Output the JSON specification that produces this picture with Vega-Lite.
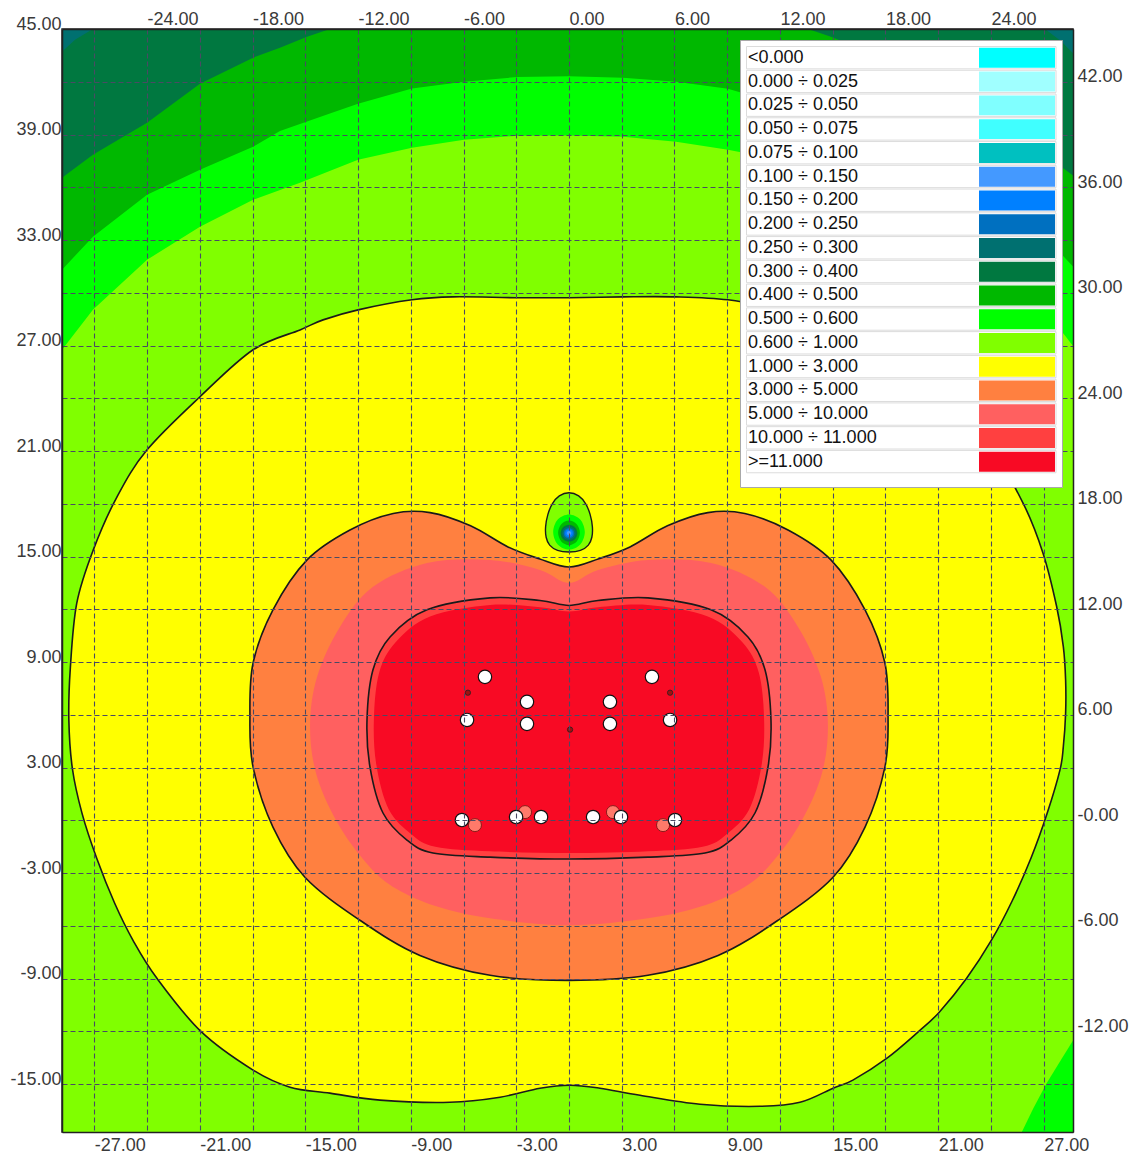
{
"$schema":"https://vega.github.io/schema/vega-lite/v6.json",
"width":1011,"height":1103,
"autosize":{"type":"none"},
"padding":{"left":62,"top":29,"right":58,"bottom":23},
"background":"white",
"config":{
 "view":{"stroke":"#222222","strokeWidth":1.5},
 "font":"Liberation Sans",
 "axis":{"labelFont":"Liberation Sans","labelFontSize":18,"labelColor":"#3a3a3a","ticks":false,"title":null,"labelOverlap":false,"labelFlush":false,"labelBound":false,"domain":true,"domainColor":"#222222","domainWidth":1.5,"gridColor":"#4a4a64","gridDash":[5,3],"gridWidth":1.1,"gridOpacity":1}
},
"datasets":{
"regions":[
{"poly":"bg","level":"0.600 ÷ 1.000","i":0,"x":-29.5,"y":-18.5},
{"poly":"bg","level":"0.600 ÷ 1.000","i":1,"x":29.5,"y":-18.5},
{"poly":"bg","level":"0.600 ÷ 1.000","i":2,"x":29.5,"y":46},
{"poly":"bg","level":"0.600 ÷ 1.000","i":3,"x":-29.5,"y":46},

{"poly":"b55","level":"0.500 ÷ 0.600","i":0,"x":-29.5,"y":26.3},
{"poly":"b55","level":"0.500 ÷ 0.600","i":1,"x":-28.84,"y":26.76},
{"poly":"b55","level":"0.500 ÷ 0.600","i":2,"x":-27.08,"y":29.03},
{"poly":"b55","level":"0.500 ÷ 0.600","i":3,"x":-24.0,"y":31.88},
{"poly":"b55","level":"0.500 ÷ 0.600","i":4,"x":-20.99,"y":33.75},
{"poly":"b55","level":"0.500 ÷ 0.600","i":5,"x":-17.97,"y":35.29},
{"poly":"b55","level":"0.500 ÷ 0.600","i":6,"x":-15.3,"y":36.26},
{"poly":"b55","level":"0.500 ÷ 0.600","i":7,"x":-12.0,"y":37.57},
{"poly":"b55","level":"0.500 ÷ 0.600","i":8,"x":-8.93,"y":38.25},
{"poly":"b55","level":"0.500 ÷ 0.600","i":9,"x":-5.97,"y":38.7},
{"poly":"b55","level":"0.500 ÷ 0.600","i":10,"x":-2.96,"y":38.93},
{"poly":"b55","level":"0.500 ÷ 0.600","i":11,"x":0,"y":38.95},
{"poly":"b55","level":"0.500 ÷ 0.600","i":12,"x":3.07,"y":38.87},
{"poly":"b55","level":"0.500 ÷ 0.600","i":13,"x":6.09,"y":38.59},
{"poly":"b55","level":"0.500 ÷ 0.600","i":14,"x":9.04,"y":38.13},
{"poly":"b55","level":"0.500 ÷ 0.600","i":15,"x":12.0,"y":37.57},
{"poly":"b55","level":"0.500 ÷ 0.600","i":16,"x":15.3,"y":36.26},
{"poly":"b55","level":"0.500 ÷ 0.600","i":17,"x":17.97,"y":35.29},
{"poly":"b55","level":"0.500 ÷ 0.600","i":18,"x":20.99,"y":33.75},
{"poly":"b55","level":"0.500 ÷ 0.600","i":19,"x":24.0,"y":31.88},
{"poly":"b55","level":"0.500 ÷ 0.600","i":20,"x":27.08,"y":29.03},
{"poly":"b55","level":"0.500 ÷ 0.600","i":21,"x":28.84,"y":26.76},
{"poly":"b55","level":"0.500 ÷ 0.600","i":22,"x":29.5,"y":26.3},
{"poly":"b55","level":"0.500 ÷ 0.600","i":23,"x":29.5,"y":46},
{"poly":"b55","level":"0.500 ÷ 0.600","i":24,"x":-29.5,"y":46},

{"poly":"b45","level":"0.400 ÷ 0.500","i":0,"x":-29.5,"y":30.6},
{"poly":"b45","level":"0.400 ÷ 0.500","i":1,"x":-28.84,"y":31.31},
{"poly":"b45","level":"0.400 ÷ 0.500","i":2,"x":-27.08,"y":33.19},
{"poly":"b45","level":"0.400 ÷ 0.500","i":3,"x":-24.0,"y":35.57},
{"poly":"b45","level":"0.400 ÷ 0.500","i":4,"x":-20.99,"y":37.0},
{"poly":"b45","level":"0.400 ÷ 0.500","i":5,"x":-17.97,"y":38.3},
{"poly":"b45","level":"0.400 ÷ 0.500","i":6,"x":-16.44,"y":39.2},
{"poly":"b45","level":"0.400 ÷ 0.500","i":7,"x":-13.6,"y":40.2},
{"poly":"b45","level":"0.400 ÷ 0.500","i":8,"x":-12.0,"y":40.75},
{"poly":"b45","level":"0.400 ÷ 0.500","i":9,"x":-8.93,"y":41.62},
{"poly":"b45","level":"0.400 ÷ 0.500","i":10,"x":-5.97,"y":42.0},
{"poly":"b45","level":"0.400 ÷ 0.500","i":11,"x":-2.96,"y":42.27},
{"poly":"b45","level":"0.400 ÷ 0.500","i":12,"x":0,"y":42.32},
{"poly":"b45","level":"0.400 ÷ 0.500","i":13,"x":3.07,"y":42.23},
{"poly":"b45","level":"0.400 ÷ 0.500","i":14,"x":6.09,"y":42.0},
{"poly":"b45","level":"0.400 ÷ 0.500","i":15,"x":9.04,"y":41.6},
{"poly":"b45","level":"0.400 ÷ 0.500","i":16,"x":12.0,"y":40.75},
{"poly":"b45","level":"0.400 ÷ 0.500","i":17,"x":13.6,"y":40.2},
{"poly":"b45","level":"0.400 ÷ 0.500","i":18,"x":16.44,"y":39.2},
{"poly":"b45","level":"0.400 ÷ 0.500","i":19,"x":17.97,"y":38.3},
{"poly":"b45","level":"0.400 ÷ 0.500","i":20,"x":20.99,"y":37.0},
{"poly":"b45","level":"0.400 ÷ 0.500","i":21,"x":24.0,"y":35.57},
{"poly":"b45","level":"0.400 ÷ 0.500","i":22,"x":27.08,"y":33.19},
{"poly":"b45","level":"0.400 ÷ 0.500","i":23,"x":28.84,"y":31.31},
{"poly":"b45","level":"0.400 ÷ 0.500","i":24,"x":29.5,"y":30.6},
{"poly":"b45","level":"0.400 ÷ 0.500","i":25,"x":29.5,"y":46},
{"poly":"b45","level":"0.400 ÷ 0.500","i":26,"x":-29.5,"y":46},

{"poly":"b34L","level":"0.300 ÷ 0.400","i":0,"x":-29.5,"y":36.0},
{"poly":"b34L","level":"0.300 ÷ 0.400","i":1,"x":-28.84,"y":36.54},
{"poly":"b34L","level":"0.300 ÷ 0.400","i":2,"x":-27.08,"y":37.85},
{"poly":"b34L","level":"0.300 ÷ 0.400","i":3,"x":-24.0,"y":39.67},
{"poly":"b34L","level":"0.300 ÷ 0.400","i":4,"x":-20.99,"y":41.89},
{"poly":"b34L","level":"0.300 ÷ 0.400","i":5,"x":-17.97,"y":43.37},
{"poly":"b34L","level":"0.300 ÷ 0.400","i":6,"x":-16.44,"y":43.94},
{"poly":"b34L","level":"0.300 ÷ 0.400","i":7,"x":-14.9,"y":44.56},
{"poly":"b34L","level":"0.300 ÷ 0.400","i":8,"x":-13.6,"y":45.0},
{"poly":"b34L","level":"0.300 ÷ 0.400","i":9,"x":-13.3,"y":46},
{"poly":"b34L","level":"0.300 ÷ 0.400","i":10,"x":-29.5,"y":46},
{"poly":"b34R","level":"0.300 ÷ 0.400","i":0,"x":29.5,"y":36.0},
{"poly":"b34R","level":"0.300 ÷ 0.400","i":1,"x":28.84,"y":36.54},
{"poly":"b34R","level":"0.300 ÷ 0.400","i":2,"x":27.08,"y":37.85},
{"poly":"b34R","level":"0.300 ÷ 0.400","i":3,"x":24.0,"y":39.67},
{"poly":"b34R","level":"0.300 ÷ 0.400","i":4,"x":20.99,"y":41.89},
{"poly":"b34R","level":"0.300 ÷ 0.400","i":5,"x":17.97,"y":43.37},
{"poly":"b34R","level":"0.300 ÷ 0.400","i":6,"x":16.44,"y":43.94},
{"poly":"b34R","level":"0.300 ÷ 0.400","i":7,"x":14.9,"y":44.56},
{"poly":"b34R","level":"0.300 ÷ 0.400","i":8,"x":13.6,"y":45.0},
{"poly":"b34R","level":"0.300 ÷ 0.400","i":9,"x":13.3,"y":46},
{"poly":"b34R","level":"0.300 ÷ 0.400","i":10,"x":29.5,"y":46},

{"poly":"b25L","level":"0.250 ÷ 0.300","i":0,"x":-29.5,"y":43.3},
{"poly":"b25L","level":"0.250 ÷ 0.300","i":1,"x":-28.84,"y":43.71},
{"poly":"b25L","level":"0.250 ÷ 0.300","i":2,"x":-28.1,"y":44.39},
{"poly":"b25L","level":"0.250 ÷ 0.300","i":3,"x":-27.08,"y":45.0},
{"poly":"b25L","level":"0.250 ÷ 0.300","i":4,"x":-26.9,"y":46},
{"poly":"b25L","level":"0.250 ÷ 0.300","i":5,"x":-29.5,"y":46},
{"poly":"b25R","level":"0.250 ÷ 0.300","i":0,"x":29.5,"y":43.1},
{"poly":"b25R","level":"0.250 ÷ 0.300","i":1,"x":28.84,"y":43.45},
{"poly":"b25R","level":"0.250 ÷ 0.300","i":2,"x":28.0,"y":44.3},
{"poly":"b25R","level":"0.250 ÷ 0.300","i":3,"x":27.08,"y":45.0},
{"poly":"b25R","level":"0.250 ÷ 0.300","i":4,"x":26.9,"y":46},
{"poly":"b25R","level":"0.250 ÷ 0.300","i":5,"x":29.5,"y":46},

{"poly":"br","level":"0.500 ÷ 0.600","i":0,"x":25.4,"y":-18.5},
{"poly":"br","level":"0.500 ÷ 0.600","i":1,"x":25.76,"y":-17.72},
{"poly":"br","level":"0.500 ÷ 0.600","i":2,"x":26.4,"y":-16.4},
{"poly":"br","level":"0.500 ÷ 0.600","i":3,"x":27.17,"y":-14.95},
{"poly":"br","level":"0.500 ÷ 0.600","i":4,"x":28.0,"y":-13.6},
{"poly":"br","level":"0.500 ÷ 0.600","i":5,"x":28.69,"y":-12.49},
{"poly":"br","level":"0.500 ÷ 0.600","i":6,"x":29.5,"y":-11.3},
{"poly":"br","level":"0.500 ÷ 0.600","i":7,"x":29.5,"y":-18.5},

{"poly":"yel","level":"1.000 ÷ 3.000","i":0,"x":0,"y":29.72},
{"poly":"yel","level":"1.000 ÷ 3.000","i":1,"x":3.07,"y":29.77},
{"poly":"yel","level":"1.000 ÷ 3.000","i":2,"x":6.09,"y":29.77},
{"poly":"yel","level":"1.000 ÷ 3.000","i":3,"x":9.04,"y":29.6},
{"poly":"yel","level":"1.000 ÷ 3.000","i":4,"x":12.0,"y":29.03},
{"poly":"yel","level":"1.000 ÷ 3.000","i":5,"x":13.99,"y":28.46},
{"poly":"yel","level":"1.000 ÷ 3.000","i":6,"x":15.3,"y":27.89},
{"poly":"yel","level":"1.000 ÷ 3.000","i":7,"x":17.97,"y":26.76},
{"poly":"yel","level":"1.000 ÷ 3.000","i":8,"x":20.99,"y":24.09},
{"poly":"yel","level":"1.000 ÷ 3.000","i":9,"x":24.0,"y":21.07},
{"poly":"yel","level":"1.000 ÷ 3.000","i":10,"x":25.82,"y":18.06},
{"poly":"yel","level":"1.000 ÷ 3.000","i":11,"x":26.96,"y":15.21},
{"poly":"yel","level":"1.000 ÷ 3.000","i":12,"x":27.74,"y":12.16},
{"poly":"yel","level":"1.000 ÷ 3.000","i":13,"x":28.12,"y":9.88},
{"poly":"yel","level":"1.000 ÷ 3.000","i":14,"x":28.25,"y":7.99},
{"poly":"yel","level":"1.000 ÷ 3.000","i":15,"x":28.25,"y":6.09},
{"poly":"yel","level":"1.000 ÷ 3.000","i":16,"x":28.12,"y":4.19},
{"poly":"yel","level":"1.000 ÷ 3.000","i":17,"x":27.93,"y":2.87},
{"poly":"yel","level":"1.000 ÷ 3.000","i":18,"x":27.2,"y":0.4},
{"poly":"yel","level":"1.000 ÷ 3.000","i":19,"x":26.3,"y":-2.1},
{"poly":"yel","level":"1.000 ÷ 3.000","i":20,"x":25.2,"y":-4.6},
{"poly":"yel","level":"1.000 ÷ 3.000","i":21,"x":24.04,"y":-6.8},
{"poly":"yel","level":"1.000 ÷ 3.000","i":22,"x":22.62,"y":-8.98},
{"poly":"yel","level":"1.000 ÷ 3.000","i":23,"x":21.05,"y":-10.92},
{"poly":"yel","level":"1.000 ÷ 3.000","i":24,"x":19.85,"y":-12.04},
{"poly":"yel","level":"1.000 ÷ 3.000","i":25,"x":18.09,"y":-13.52},
{"poly":"yel","level":"1.000 ÷ 3.000","i":26,"x":16.15,"y":-14.77},
{"poly":"yel","level":"1.000 ÷ 3.000","i":27,"x":15.02,"y":-15.23},
{"poly":"yel","level":"1.000 ÷ 3.000","i":28,"x":13.14,"y":-16.03},
{"poly":"yel","level":"1.000 ÷ 3.000","i":29,"x":10.86,"y":-16.26},
{"poly":"yel","level":"1.000 ÷ 3.000","i":30,"x":7.45,"y":-16.14},
{"poly":"yel","level":"1.000 ÷ 3.000","i":31,"x":4.04,"y":-15.63},
{"poly":"yel","level":"1.000 ÷ 3.000","i":32,"x":1.76,"y":-15.23},
{"poly":"yel","level":"1.000 ÷ 3.000","i":33,"x":0.06,"y":-15.06},
{"poly":"yel","level":"1.000 ÷ 3.000","i":34,"x":-1.65,"y":-15.23},
{"poly":"yel","level":"1.000 ÷ 3.000","i":35,"x":-3.92,"y":-15.74},
{"poly":"yel","level":"1.000 ÷ 3.000","i":36,"x":-6.77,"y":-16.03},
{"poly":"yel","level":"1.000 ÷ 3.000","i":37,"x":-10.75,"y":-15.91},
{"poly":"yel","level":"1.000 ÷ 3.000","i":38,"x":-13.6,"y":-15.51},
{"poly":"yel","level":"1.000 ÷ 3.000","i":39,"x":-15.87,"y":-15.17},
{"poly":"yel","level":"1.000 ÷ 3.000","i":40,"x":-17.97,"y":-14.2},
{"poly":"yel","level":"1.000 ÷ 3.000","i":41,"x":-20.94,"y":-12.0},
{"poly":"yel","level":"1.000 ÷ 3.000","i":42,"x":-23.44,"y":-8.98},
{"poly":"yel","level":"1.000 ÷ 3.000","i":43,"x":-24.8,"y":-6.82},
{"poly":"yel","level":"1.000 ÷ 3.000","i":44,"x":-25.85,"y":-4.7},
{"poly":"yel","level":"1.000 ÷ 3.000","i":45,"x":-26.85,"y":-2.2},
{"poly":"yel","level":"1.000 ÷ 3.000","i":46,"x":-27.7,"y":0.4},
{"poly":"yel","level":"1.000 ÷ 3.000","i":47,"x":-28.25,"y":2.95},
{"poly":"yel","level":"1.000 ÷ 3.000","i":48,"x":-28.45,"y":5.7},
{"poly":"yel","level":"1.000 ÷ 3.000","i":49,"x":-28.37,"y":8.6},
{"poly":"yel","level":"1.000 ÷ 3.000","i":50,"x":-28.0,"y":12.35},
{"poly":"yel","level":"1.000 ÷ 3.000","i":51,"x":-27.06,"y":15.38},
{"poly":"yel","level":"1.000 ÷ 3.000","i":52,"x":-25.71,"y":18.4},
{"poly":"yel","level":"1.000 ÷ 3.000","i":53,"x":-24.0,"y":21.07},
{"poly":"yel","level":"1.000 ÷ 3.000","i":54,"x":-20.99,"y":24.09},
{"poly":"yel","level":"1.000 ÷ 3.000","i":55,"x":-17.97,"y":26.76},
{"poly":"yel","level":"1.000 ÷ 3.000","i":56,"x":-15.3,"y":27.89},
{"poly":"yel","level":"1.000 ÷ 3.000","i":57,"x":-13.99,"y":28.46},
{"poly":"yel","level":"1.000 ÷ 3.000","i":58,"x":-12.0,"y":29.03},
{"poly":"yel","level":"1.000 ÷ 3.000","i":59,"x":-8.93,"y":29.6},
{"poly":"yel","level":"1.000 ÷ 3.000","i":60,"x":-6.6,"y":29.77},
{"poly":"yel","level":"1.000 ÷ 3.000","i":61,"x":-2.96,"y":29.72},

{"poly":"org","level":"3.000 ÷ 5.000","i":0,"x":0,"y":14.41},
{"poly":"org","level":"3.000 ÷ 5.000","i":1,"x":1.7,"y":14.88},
{"poly":"org","level":"3.000 ÷ 5.000","i":2,"x":3.47,"y":15.55},
{"poly":"org","level":"3.000 ÷ 5.000","i":3,"x":5.6,"y":16.75},
{"poly":"org","level":"3.000 ÷ 5.000","i":4,"x":7.9,"y":17.5},
{"poly":"org","level":"3.000 ÷ 5.000","i":5,"x":10.0,"y":17.45},
{"poly":"org","level":"3.000 ÷ 5.000","i":6,"x":12.46,"y":16.51},
{"poly":"org","level":"3.000 ÷ 5.000","i":7,"x":14.9,"y":14.81},
{"poly":"org","level":"3.000 ÷ 5.000","i":8,"x":16.84,"y":11.97},
{"poly":"org","level":"3.000 ÷ 5.000","i":9,"x":17.97,"y":8.95},
{"poly":"org","level":"3.000 ÷ 5.000","i":10,"x":18.15,"y":5.89},
{"poly":"org","level":"3.000 ÷ 5.000","i":11,"x":17.97,"y":3.03},
{"poly":"org","level":"3.000 ÷ 5.000","i":12,"x":16.84,"y":-0.38},
{"poly":"org","level":"3.000 ÷ 5.000","i":13,"x":15.02,"y":-3.23},
{"poly":"org","level":"3.000 ÷ 5.000","i":14,"x":11.89,"y":-5.68},
{"poly":"org","level":"3.000 ÷ 5.000","i":15,"x":8.48,"y":-7.68},
{"poly":"org","level":"3.000 ÷ 5.000","i":16,"x":4.49,"y":-8.81},
{"poly":"org","level":"3.000 ÷ 5.000","i":17,"x":0,"y":-9.1},
{"poly":"org","level":"3.000 ÷ 5.000","i":18,"x":-4.49,"y":-8.81},
{"poly":"org","level":"3.000 ÷ 5.000","i":19,"x":-8.48,"y":-7.68},
{"poly":"org","level":"3.000 ÷ 5.000","i":20,"x":-11.89,"y":-5.68},
{"poly":"org","level":"3.000 ÷ 5.000","i":21,"x":-15.02,"y":-3.23},
{"poly":"org","level":"3.000 ÷ 5.000","i":22,"x":-16.84,"y":-0.38},
{"poly":"org","level":"3.000 ÷ 5.000","i":23,"x":-17.97,"y":3.03},
{"poly":"org","level":"3.000 ÷ 5.000","i":24,"x":-18.15,"y":5.89},
{"poly":"org","level":"3.000 ÷ 5.000","i":25,"x":-17.97,"y":8.95},
{"poly":"org","level":"3.000 ÷ 5.000","i":26,"x":-16.84,"y":11.97},
{"poly":"org","level":"3.000 ÷ 5.000","i":27,"x":-14.9,"y":14.81},
{"poly":"org","level":"3.000 ÷ 5.000","i":28,"x":-12.46,"y":16.51},
{"poly":"org","level":"3.000 ÷ 5.000","i":29,"x":-10.0,"y":17.45},
{"poly":"org","level":"3.000 ÷ 5.000","i":30,"x":-7.9,"y":17.5},
{"poly":"org","level":"3.000 ÷ 5.000","i":31,"x":-5.6,"y":16.75},
{"poly":"org","level":"3.000 ÷ 5.000","i":32,"x":-3.47,"y":15.55},
{"poly":"org","level":"3.000 ÷ 5.000","i":33,"x":-1.7,"y":14.88},

{"poly":"pnk","level":"5.000 ÷ 10.000","i":0,"x":0,"y":13.5},
{"poly":"pnk","level":"5.000 ÷ 10.000","i":1,"x":1.65,"y":14.24},
{"poly":"pnk","level":"5.000 ÷ 10.000","i":2,"x":4.49,"y":14.81},
{"poly":"pnk","level":"5.000 ÷ 10.000","i":3,"x":8.08,"y":14.64},
{"poly":"pnk","level":"5.000 ÷ 10.000","i":4,"x":11.15,"y":13.28},
{"poly":"pnk","level":"5.000 ÷ 10.000","i":5,"x":13.03,"y":11.0},
{"poly":"pnk","level":"5.000 ÷ 10.000","i":6,"x":14.33,"y":8.16},
{"poly":"pnk","level":"5.000 ÷ 10.000","i":7,"x":14.73,"y":5.31},
{"poly":"pnk","level":"5.000 ÷ 10.000","i":8,"x":14.33,"y":2.47},
{"poly":"pnk","level":"5.000 ÷ 10.000","i":9,"x":13.03,"y":-0.38},
{"poly":"pnk","level":"5.000 ÷ 10.000","i":10,"x":11.32,"y":-2.66},
{"poly":"pnk","level":"5.000 ÷ 10.000","i":11,"x":9.8,"y":-3.9},
{"poly":"pnk","level":"5.000 ÷ 10.000","i":12,"x":7.5,"y":-4.9},
{"poly":"pnk","level":"5.000 ÷ 10.000","i":13,"x":4.49,"y":-5.57},
{"poly":"pnk","level":"5.000 ÷ 10.000","i":14,"x":0,"y":-5.97},
{"poly":"pnk","level":"5.000 ÷ 10.000","i":15,"x":-4.49,"y":-5.57},
{"poly":"pnk","level":"5.000 ÷ 10.000","i":16,"x":-7.5,"y":-4.9},
{"poly":"pnk","level":"5.000 ÷ 10.000","i":17,"x":-9.8,"y":-3.9},
{"poly":"pnk","level":"5.000 ÷ 10.000","i":18,"x":-11.32,"y":-2.66},
{"poly":"pnk","level":"5.000 ÷ 10.000","i":19,"x":-13.03,"y":-0.38},
{"poly":"pnk","level":"5.000 ÷ 10.000","i":20,"x":-14.33,"y":2.47},
{"poly":"pnk","level":"5.000 ÷ 10.000","i":21,"x":-14.73,"y":5.31},
{"poly":"pnk","level":"5.000 ÷ 10.000","i":22,"x":-14.33,"y":8.16},
{"poly":"pnk","level":"5.000 ÷ 10.000","i":23,"x":-13.03,"y":11.0},
{"poly":"pnk","level":"5.000 ÷ 10.000","i":24,"x":-11.15,"y":13.28},
{"poly":"pnk","level":"5.000 ÷ 10.000","i":25,"x":-8.08,"y":14.64},
{"poly":"pnk","level":"5.000 ÷ 10.000","i":26,"x":-4.49,"y":14.81},
{"poly":"pnk","level":"5.000 ÷ 10.000","i":27,"x":-1.65,"y":14.24},

{"poly":"r10","level":"10.000 ÷ 11.000","i":0,"x":0,"y":12.22},
{"poly":"r10","level":"10.000 ÷ 11.000","i":1,"x":1.65,"y":12.5},
{"poly":"r10","level":"10.000 ÷ 11.000","i":2,"x":4.49,"y":12.65},
{"poly":"r10","level":"10.000 ÷ 11.000","i":3,"x":8.08,"y":11.97},
{"poly":"r10","level":"10.000 ÷ 11.000","i":4,"x":10.18,"y":10.43},
{"poly":"r10","level":"10.000 ÷ 11.000","i":5,"x":11.15,"y":8.56},
{"poly":"r10","level":"10.000 ÷ 11.000","i":6,"x":11.49,"y":5.71},
{"poly":"r10","level":"10.000 ÷ 11.000","i":7,"x":11.32,"y":3.03},
{"poly":"r10","level":"10.000 ÷ 11.000","i":8,"x":10.58,"y":0.42},
{"poly":"r10","level":"10.000 ÷ 11.000","i":9,"x":9.22,"y":-1.12},
{"poly":"r10","level":"10.000 ÷ 11.000","i":10,"x":7.74,"y":-1.86},
{"poly":"r10","level":"10.000 ÷ 11.000","i":11,"x":4.49,"y":-2.09},
{"poly":"r10","level":"10.000 ÷ 11.000","i":12,"x":0,"y":-2.2},
{"poly":"r10","level":"10.000 ÷ 11.000","i":13,"x":-4.49,"y":-2.09},
{"poly":"r10","level":"10.000 ÷ 11.000","i":14,"x":-7.74,"y":-1.86},
{"poly":"r10","level":"10.000 ÷ 11.000","i":15,"x":-9.22,"y":-1.12},
{"poly":"r10","level":"10.000 ÷ 11.000","i":16,"x":-10.58,"y":0.42},
{"poly":"r10","level":"10.000 ÷ 11.000","i":17,"x":-11.32,"y":3.03},
{"poly":"r10","level":"10.000 ÷ 11.000","i":18,"x":-11.49,"y":5.71},
{"poly":"r10","level":"10.000 ÷ 11.000","i":19,"x":-11.15,"y":8.56},
{"poly":"r10","level":"10.000 ÷ 11.000","i":20,"x":-10.18,"y":10.43},
{"poly":"r10","level":"10.000 ÷ 11.000","i":21,"x":-8.08,"y":11.97},
{"poly":"r10","level":"10.000 ÷ 11.000","i":22,"x":-4.49,"y":12.65},
{"poly":"r10","level":"10.000 ÷ 11.000","i":23,"x":-1.65,"y":12.5},

{"poly":"r11","level":">=11.000","i":0,"x":0,"y":11.88},
{"poly":"r11","level":">=11.000","i":1,"x":1.65,"y":12.12},
{"poly":"r11","level":">=11.000","i":2,"x":4.49,"y":12.25},
{"poly":"r11","level":">=11.000","i":3,"x":7.9,"y":11.6},
{"poly":"r11","level":">=11.000","i":4,"x":9.85,"y":10.15},
{"poly":"r11","level":">=11.000","i":5,"x":10.8,"y":8.4},
{"poly":"r11","level":">=11.000","i":6,"x":11.1,"y":5.7},
{"poly":"r11","level":">=11.000","i":7,"x":10.95,"y":3.1},
{"poly":"r11","level":">=11.000","i":8,"x":10.25,"y":0.62},
{"poly":"r11","level":">=11.000","i":9,"x":8.95,"y":-0.8},
{"poly":"r11","level":">=11.000","i":10,"x":7.6,"y":-1.5},
{"poly":"r11","level":">=11.000","i":11,"x":4.49,"y":-1.76},
{"poly":"r11","level":">=11.000","i":12,"x":0,"y":-1.86},
{"poly":"r11","level":">=11.000","i":13,"x":-4.49,"y":-1.76},
{"poly":"r11","level":">=11.000","i":14,"x":-7.6,"y":-1.5},
{"poly":"r11","level":">=11.000","i":15,"x":-8.95,"y":-0.8},
{"poly":"r11","level":">=11.000","i":16,"x":-10.25,"y":0.62},
{"poly":"r11","level":">=11.000","i":17,"x":-10.95,"y":3.1},
{"poly":"r11","level":">=11.000","i":18,"x":-11.1,"y":5.7},
{"poly":"r11","level":">=11.000","i":19,"x":-10.8,"y":8.4},
{"poly":"r11","level":">=11.000","i":20,"x":-9.85,"y":10.15},
{"poly":"r11","level":">=11.000","i":21,"x":-7.9,"y":11.6},
{"poly":"r11","level":">=11.000","i":22,"x":-4.49,"y":12.25},
{"poly":"r11","level":">=11.000","i":23,"x":-1.65,"y":12.12},

{"poly":"ovl","level":"0.600 ÷ 1.000","i":0,"x":0,"y":18.63},
{"poly":"ovl","level":"0.600 ÷ 1.000","i":1,"x":0.55,"y":18.45},
{"poly":"ovl","level":"0.600 ÷ 1.000","i":2,"x":0.95,"y":18.0},
{"poly":"ovl","level":"0.600 ÷ 1.000","i":3,"x":1.2,"y":17.4},
{"poly":"ovl","level":"0.600 ÷ 1.000","i":4,"x":1.33,"y":16.7},
{"poly":"ovl","level":"0.600 ÷ 1.000","i":5,"x":1.3,"y":16.1},
{"poly":"ovl","level":"0.600 ÷ 1.000","i":6,"x":1.1,"y":15.65},
{"poly":"ovl","level":"0.600 ÷ 1.000","i":7,"x":0.65,"y":15.35},
{"poly":"ovl","level":"0.600 ÷ 1.000","i":8,"x":0,"y":15.26},
{"poly":"ovl","level":"0.600 ÷ 1.000","i":9,"x":-0.65,"y":15.35},
{"poly":"ovl","level":"0.600 ÷ 1.000","i":10,"x":-1.1,"y":15.65},
{"poly":"ovl","level":"0.600 ÷ 1.000","i":11,"x":-1.3,"y":16.1},
{"poly":"ovl","level":"0.600 ÷ 1.000","i":12,"x":-1.33,"y":16.7},
{"poly":"ovl","level":"0.600 ÷ 1.000","i":13,"x":-1.2,"y":17.4},
{"poly":"ovl","level":"0.600 ÷ 1.000","i":14,"x":-0.95,"y":18.0},
{"poly":"ovl","level":"0.600 ÷ 1.000","i":15,"x":-0.55,"y":18.45},

{"poly":"c55","level":"0.500 ÷ 0.600","i":0,"x":0.9,"y":16.4},
{"poly":"c55","level":"0.500 ÷ 0.600","i":1,"x":0.64,"y":17.11},
{"poly":"c55","level":"0.500 ÷ 0.600","i":2,"x":0,"y":17.4},
{"poly":"c55","level":"0.500 ÷ 0.600","i":3,"x":-0.64,"y":17.11},
{"poly":"c55","level":"0.500 ÷ 0.600","i":4,"x":-0.9,"y":16.4},
{"poly":"c55","level":"0.500 ÷ 0.600","i":5,"x":-0.64,"y":15.69},
{"poly":"c55","level":"0.500 ÷ 0.600","i":6,"x":0,"y":15.4},
{"poly":"c55","level":"0.500 ÷ 0.600","i":7,"x":0.64,"y":15.69},
{"poly":"c45","level":"0.400 ÷ 0.500","i":0,"x":0.62,"y":16.35},
{"poly":"c45","level":"0.400 ÷ 0.500","i":1,"x":0.44,"y":16.84},
{"poly":"c45","level":"0.400 ÷ 0.500","i":2,"x":0,"y":17.05},
{"poly":"c45","level":"0.400 ÷ 0.500","i":3,"x":-0.44,"y":16.84},
{"poly":"c45","level":"0.400 ÷ 0.500","i":4,"x":-0.62,"y":16.35},
{"poly":"c45","level":"0.400 ÷ 0.500","i":5,"x":-0.44,"y":15.86},
{"poly":"c45","level":"0.400 ÷ 0.500","i":6,"x":0,"y":15.65},
{"poly":"c45","level":"0.400 ÷ 0.500","i":7,"x":0.44,"y":15.86},
{"poly":"c34","level":"0.300 ÷ 0.400","i":0,"x":0.48,"y":16.33},
{"poly":"c34","level":"0.300 ÷ 0.400","i":1,"x":0.34,"y":16.67},
{"poly":"c34","level":"0.300 ÷ 0.400","i":2,"x":0,"y":16.81},
{"poly":"c34","level":"0.300 ÷ 0.400","i":3,"x":-0.34,"y":16.67},
{"poly":"c34","level":"0.300 ÷ 0.400","i":4,"x":-0.48,"y":16.33},
{"poly":"c34","level":"0.300 ÷ 0.400","i":5,"x":-0.34,"y":15.99},
{"poly":"c34","level":"0.300 ÷ 0.400","i":6,"x":0,"y":15.85},
{"poly":"c34","level":"0.300 ÷ 0.400","i":7,"x":0.34,"y":15.99},
{"poly":"c25","level":"0.250 ÷ 0.300","i":0,"x":0.38,"y":16.33},
{"poly":"c25","level":"0.250 ÷ 0.300","i":1,"x":0.27,"y":16.6},
{"poly":"c25","level":"0.250 ÷ 0.300","i":2,"x":0,"y":16.71},
{"poly":"c25","level":"0.250 ÷ 0.300","i":3,"x":-0.27,"y":16.6},
{"poly":"c25","level":"0.250 ÷ 0.300","i":4,"x":-0.38,"y":16.33},
{"poly":"c25","level":"0.250 ÷ 0.300","i":5,"x":-0.27,"y":16.06},
{"poly":"c25","level":"0.250 ÷ 0.300","i":6,"x":0,"y":15.95},
{"poly":"c25","level":"0.250 ÷ 0.300","i":7,"x":0.27,"y":16.06},
{"poly":"c20","level":"0.200 ÷ 0.250","i":0,"x":0.3,"y":16.33},
{"poly":"c20","level":"0.200 ÷ 0.250","i":1,"x":0.21,"y":16.54},
{"poly":"c20","level":"0.200 ÷ 0.250","i":2,"x":0,"y":16.63},
{"poly":"c20","level":"0.200 ÷ 0.250","i":3,"x":-0.21,"y":16.54},
{"poly":"c20","level":"0.200 ÷ 0.250","i":4,"x":-0.3,"y":16.33},
{"poly":"c20","level":"0.200 ÷ 0.250","i":5,"x":-0.21,"y":16.12},
{"poly":"c20","level":"0.200 ÷ 0.250","i":6,"x":0,"y":16.03},
{"poly":"c20","level":"0.200 ÷ 0.250","i":7,"x":0.21,"y":16.12},
{"poly":"c15","level":"0.150 ÷ 0.200","i":0,"x":0.22,"y":16.33},
{"poly":"c15","level":"0.150 ÷ 0.200","i":1,"x":0.16,"y":16.49},
{"poly":"c15","level":"0.150 ÷ 0.200","i":2,"x":0,"y":16.55},
{"poly":"c15","level":"0.150 ÷ 0.200","i":3,"x":-0.16,"y":16.49},
{"poly":"c15","level":"0.150 ÷ 0.200","i":4,"x":-0.22,"y":16.33},
{"poly":"c15","level":"0.150 ÷ 0.200","i":5,"x":-0.16,"y":16.17},
{"poly":"c15","level":"0.150 ÷ 0.200","i":6,"x":0,"y":16.11},
{"poly":"c15","level":"0.150 ÷ 0.200","i":7,"x":0.16,"y":16.17},
{"poly":"c10","level":"0.100 ÷ 0.150","i":0,"x":0.13,"y":16.33},
{"poly":"c10","level":"0.100 ÷ 0.150","i":1,"x":0.09,"y":16.42},
{"poly":"c10","level":"0.100 ÷ 0.150","i":2,"x":0,"y":16.46},
{"poly":"c10","level":"0.100 ÷ 0.150","i":3,"x":-0.09,"y":16.42},
{"poly":"c10","level":"0.100 ÷ 0.150","i":4,"x":-0.13,"y":16.33},
{"poly":"c10","level":"0.100 ÷ 0.150","i":5,"x":-0.09,"y":16.24},
{"poly":"c10","level":"0.100 ÷ 0.150","i":6,"x":0,"y":16.2},
{"poly":"c10","level":"0.100 ÷ 0.150","i":7,"x":0.09,"y":16.24}
],
"lamps":[
{"x":-4.78,"y":8.16},{"x":-2.39,"y":6.74},{"x":-2.39,"y":5.49},{"x":2.33,"y":6.74},{"x":2.33,"y":5.49},{"x":4.72,"y":8.16},{"x":-5.8,"y":5.71},{"x":5.75,"y":5.71},
{"x":-6.09,"y":0.02},{"x":-3.01,"y":0.19},{"x":-1.59,"y":0.19},{"x":1.37,"y":0.19},{"x":2.96,"y":0.19},{"x":6.03,"y":0.02}
],
"rings":[
{"x":-5.35,"y":-0.27},{"x":-2.5,"y":0.47},{"x":2.5,"y":0.47},{"x":5.35,"y":-0.27}
],
"dots":[
{"x":-5.75,"y":7.26},{"x":5.75,"y":7.26},{"x":0.06,"y":5.16}
]
},
"resolve":{"axis":{"x":"independent","y":"independent"}},
"layer":[
{"data":{"name":"regions"},"transform":[{"filter":"datum.poly==='bg'"}],
 "mark":{"type":"line","filled":true,"interpolate":"linear","clip":true},
 "encoding":{
  "x":{"field":"x","type":"quantitative","scale":{"domain":[-28.84,28.67],"nice":false,"zero":false},
   "axis":{"orient":"bottom","zindex":1,"values":[-27,-24,-21,-18,-15,-12,-9,-6,-3,0,3,6,9,12,15,18,21,24,27],"grid":true,"labelAlign":"left","labelBaseline":"top","labelPadding":4,
    "labelExpr":"abs(datum.value) % 6 == 3 ? (datum.value < 0 ? '-' : '') + format(abs(datum.value), '.2f') : ''"}},
  "y":{"field":"y","type":"quantitative","scale":{"domain":[-17.72,45],"nice":false,"zero":false},
   "axis":{"orient":"left","zindex":1,"values":[-15,-12,-9,-6,-3,0,3,6,9,12,15,18,21,24,27,30,33,36,39,42,45],"grid":true,"labelAlign":"right","labelBaseline":"alphabetic","labelPadding":1,
    "labelExpr":"(45 - datum.value) % 6 == 0 ? (datum.value < 0 ? '-' : '') + format(abs(datum.value), '.2f') : ''"}},
  "order":{"field":"i","type":"quantitative"},
  "color":{"field":"level","type":"nominal",
   "scale":{"domain":["<0.000","0.000 ÷ 0.025","0.025 ÷ 0.050","0.050 ÷ 0.075","0.075 ÷ 0.100","0.100 ÷ 0.150","0.150 ÷ 0.200","0.200 ÷ 0.250","0.250 ÷ 0.300","0.300 ÷ 0.400","0.400 ÷ 0.500","0.500 ÷ 0.600","0.600 ÷ 1.000","1.000 ÷ 3.000","3.000 ÷ 5.000","5.000 ÷ 10.000","10.000 ÷ 11.000",">=11.000"],
    "range":["#00ffff","#a0ffff","#80ffff","#40ffff","#00c0c0","#4499ff","#0080ff","#0070c0","#007070","#007840","#00b800","#00ff00","#80ff00","#ffff00","#ff8040","#ff6060","#ff4040","#f80a24"]},
   "legend":{"orient":"none","legendX":678,"legendY":11,"direction":"vertical","title":"\u00a0","titleOrient":"bottom","titleFontSize":8,"titlePadding":1,
    "symbolType":"M-1,-0.263H1V0.263H-1Z","symbolSize":5776,"symbolStrokeWidth":0,"symbolOffset":233,"symbolOpacity":1,
    "labelOffset":-307,"labelFontSize":18,"labelFont":"Liberation Sans","labelColor":"#111111","labelLimit":400,
    "rowPadding":0.76,"padding":6,"fillColor":"white","strokeColor":"#a8a8a8","zindex":2,
    "encode":{
     "entries":{"update":{"width":{"value":310},"height":{"value":23.7},"stroke":{"value":"#dcdcdc"},"strokeWidth":{"value":1},"fill":{"value":"transparent"}}},
     "symbols":{"update":{"y":{"value":11.85},"fill":{"scale":"color","field":"value"},"stroke":{"value":"transparent"},"strokeWidth":{"value":0},"opacity":{"value":1}}},
     "labels":{"update":{"y":{"value":11.85}}}}}}
 }},
{"data":{"name":"regions"},"transform":[{"filter":"datum.poly==='b55'"}],
 "mark":{"type":"line","filled":true,"interpolate":"linear","clip":true},
 "encoding":{
  "x":{"field":"x","type":"quantitative",
   "axis":{"orient":"top","zindex":1,"values":[-24,-18,-12,-6,0,6,12,18,24],"grid":false,"labelAlign":"left","labelBaseline":"alphabetic","labelPadding":5,
    "labelExpr":"(datum.value < 0 ? '-' : '') + format(abs(datum.value), '.2f')"}},
  "y":{"field":"y","type":"quantitative",
   "axis":{"orient":"right","zindex":1,"values":[-12,-6,0,6,12,18,24,30,36,42],"grid":false,"labelAlign":"left","labelBaseline":"alphabetic","labelPadding":4,
    "labelExpr":"datum.value == 0 ? '-0.00' : (datum.value < 0 ? '-' : '') + format(abs(datum.value), '.2f')"}},
  "order":{"field":"i","type":"quantitative"},
  "color":{"field":"level","type":"nominal"}
 }},
{"data":{"name":"regions"},"transform":[{"filter":"datum.poly==='b45'"}],
 "mark":{"type":"line","filled":true,"interpolate":"linear","clip":true},
 "encoding":{"x":{"field":"x","type":"quantitative","axis":null},"y":{"field":"y","type":"quantitative","axis":null},"order":{"field":"i","type":"quantitative"},"color":{"field":"level","type":"nominal"}}},
{"data":{"name":"regions"},"transform":[{"filter":"datum.poly==='b34L' || datum.poly==='b34R'"}],
 "mark":{"type":"line","filled":true,"interpolate":"linear","clip":true},
 "encoding":{"x":{"field":"x","type":"quantitative","axis":null},"y":{"field":"y","type":"quantitative","axis":null},"order":{"field":"i","type":"quantitative"},"detail":{"field":"poly"},"color":{"field":"level","type":"nominal"}}},
{"data":{"name":"regions"},"transform":[{"filter":"datum.poly==='b25L' || datum.poly==='b25R' || datum.poly==='br'"}],
 "mark":{"type":"line","filled":true,"interpolate":"linear","clip":true},
 "encoding":{"x":{"field":"x","type":"quantitative","axis":null},"y":{"field":"y","type":"quantitative","axis":null},"order":{"field":"i","type":"quantitative"},"detail":{"field":"poly"},"color":{"field":"level","type":"nominal"}}},
{"data":{"name":"regions"},"transform":[{"filter":"datum.poly==='yel'"}],
 "mark":{"type":"line","filled":true,"interpolate":"cardinal-closed","stroke":"#1a1a1a","strokeWidth":1.6,"clip":true},
 "encoding":{"x":{"field":"x","type":"quantitative","axis":null},"y":{"field":"y","type":"quantitative","axis":null},"order":{"field":"i","type":"quantitative"},"color":{"field":"level","type":"nominal"}}},
{"data":{"name":"regions"},"transform":[{"filter":"datum.poly==='org'"}],
 "mark":{"type":"line","filled":true,"interpolate":"cardinal-closed","stroke":"#1a1a1a","strokeWidth":1.6,"clip":true},
 "encoding":{"x":{"field":"x","type":"quantitative","axis":null},"y":{"field":"y","type":"quantitative","axis":null},"order":{"field":"i","type":"quantitative"},"color":{"field":"level","type":"nominal"}}},
{"data":{"name":"regions"},"transform":[{"filter":"datum.poly==='pnk'"}],
 "mark":{"type":"line","filled":true,"interpolate":"cardinal-closed","clip":true},
 "encoding":{"x":{"field":"x","type":"quantitative","axis":null},"y":{"field":"y","type":"quantitative","axis":null},"order":{"field":"i","type":"quantitative"},"color":{"field":"level","type":"nominal"}}},
{"data":{"name":"regions"},"transform":[{"filter":"datum.poly==='r10'"}],
 "mark":{"type":"line","filled":true,"interpolate":"cardinal-closed","stroke":"#1a1a1a","strokeWidth":1.6,"clip":true},
 "encoding":{"x":{"field":"x","type":"quantitative","axis":null},"y":{"field":"y","type":"quantitative","axis":null},"order":{"field":"i","type":"quantitative"},"color":{"field":"level","type":"nominal"}}},
{"data":{"name":"regions"},"transform":[{"filter":"datum.poly==='r11'"}],
 "mark":{"type":"line","filled":true,"interpolate":"cardinal-closed","clip":true},
 "encoding":{"x":{"field":"x","type":"quantitative","axis":null},"y":{"field":"y","type":"quantitative","axis":null},"order":{"field":"i","type":"quantitative"},"color":{"field":"level","type":"nominal"}}},
{"data":{"name":"regions"},"transform":[{"filter":"datum.poly==='ovl'"}],
 "mark":{"type":"line","filled":true,"interpolate":"cardinal-closed","stroke":"#1a1a1a","strokeWidth":1.4,"clip":true},
 "encoding":{"x":{"field":"x","type":"quantitative","axis":null},"y":{"field":"y","type":"quantitative","axis":null},"order":{"field":"i","type":"quantitative"},"color":{"field":"level","type":"nominal"}}},
{"data":{"name":"regions"},"transform":[{"filter":"datum.poly==='c55'"}],
 "mark":{"type":"line","filled":true,"interpolate":"cardinal-closed","clip":true},
 "encoding":{"x":{"field":"x","type":"quantitative","axis":null},"y":{"field":"y","type":"quantitative","axis":null},"order":{"field":"i","type":"quantitative"},"color":{"field":"level","type":"nominal"}}},
{"data":{"name":"regions"},"transform":[{"filter":"datum.poly==='c45'"}],
 "mark":{"type":"line","filled":true,"interpolate":"cardinal-closed","clip":true},
 "encoding":{"x":{"field":"x","type":"quantitative","axis":null},"y":{"field":"y","type":"quantitative","axis":null},"order":{"field":"i","type":"quantitative"},"color":{"field":"level","type":"nominal"}}},
{"data":{"name":"regions"},"transform":[{"filter":"datum.poly==='c34'"}],
 "mark":{"type":"line","filled":true,"interpolate":"cardinal-closed","clip":true},
 "encoding":{"x":{"field":"x","type":"quantitative","axis":null},"y":{"field":"y","type":"quantitative","axis":null},"order":{"field":"i","type":"quantitative"},"color":{"field":"level","type":"nominal"}}},
{"data":{"name":"regions"},"transform":[{"filter":"datum.poly==='c25'"}],
 "mark":{"type":"line","filled":true,"interpolate":"cardinal-closed","clip":true},
 "encoding":{"x":{"field":"x","type":"quantitative","axis":null},"y":{"field":"y","type":"quantitative","axis":null},"order":{"field":"i","type":"quantitative"},"color":{"field":"level","type":"nominal"}}},
{"data":{"name":"regions"},"transform":[{"filter":"datum.poly==='c20'"}],
 "mark":{"type":"line","filled":true,"interpolate":"cardinal-closed","clip":true},
 "encoding":{"x":{"field":"x","type":"quantitative","axis":null},"y":{"field":"y","type":"quantitative","axis":null},"order":{"field":"i","type":"quantitative"},"color":{"field":"level","type":"nominal"}}},
{"data":{"name":"regions"},"transform":[{"filter":"datum.poly==='c15'"}],
 "mark":{"type":"line","filled":true,"interpolate":"cardinal-closed","clip":true},
 "encoding":{"x":{"field":"x","type":"quantitative","axis":null},"y":{"field":"y","type":"quantitative","axis":null},"order":{"field":"i","type":"quantitative"},"color":{"field":"level","type":"nominal"}}},
{"data":{"name":"regions"},"transform":[{"filter":"datum.poly==='c10'"}],
 "mark":{"type":"line","filled":true,"interpolate":"cardinal-closed","clip":true},
 "encoding":{"x":{"field":"x","type":"quantitative","axis":null},"y":{"field":"y","type":"quantitative","axis":null},"order":{"field":"i","type":"quantitative"},"color":{"field":"level","type":"nominal"}}},
{"data":{"name":"rings"},
 "mark":{"type":"point","shape":"circle","filled":true,"fill":"#ff7a6a","stroke":"#8a1a1a","strokeWidth":1,"size":170,"opacity":1,"clip":true},
 "encoding":{"x":{"field":"x","type":"quantitative","axis":null},"y":{"field":"y","type":"quantitative","axis":null}}},
{"data":{"name":"lamps"},
 "mark":{"type":"point","shape":"circle","filled":true,"fill":"white","stroke":"#111111","strokeWidth":1.2,"size":180,"opacity":1,"clip":true},
 "encoding":{"x":{"field":"x","type":"quantitative","axis":null},"y":{"field":"y","type":"quantitative","axis":null}}},
{"data":{"name":"dots"},
 "mark":{"type":"point","shape":"circle","filled":true,"fill":"#a01010","stroke":"#222222","strokeWidth":0.8,"size":28,"opacity":1,"clip":true},
 "encoding":{"x":{"field":"x","type":"quantitative","axis":null},"y":{"field":"y","type":"quantitative","axis":null}}}
]
}
